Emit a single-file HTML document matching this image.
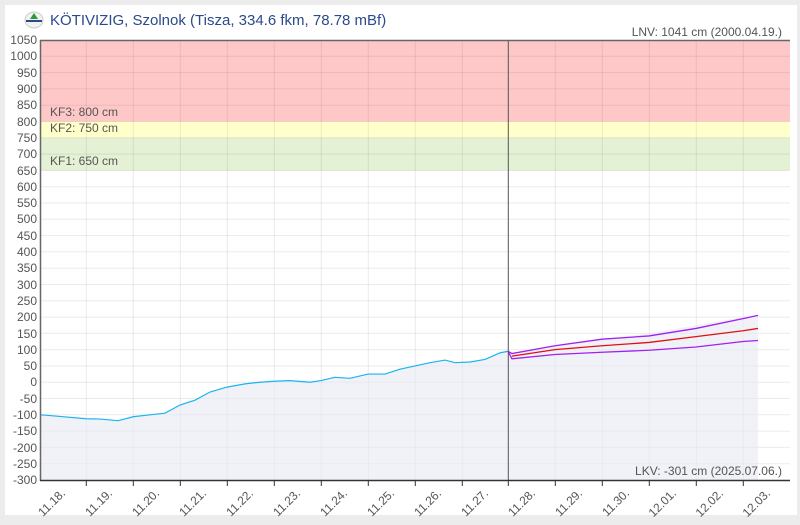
<!DOCTYPE html>
<html><head><meta charset="utf-8"><style>
body{margin:0;background:#ececec;width:800px;height:520px;overflow:hidden;font-family:"Liberation Sans",sans-serif}
</style></head><body>
<svg width="800" height="520" xmlns="http://www.w3.org/2000/svg" font-family="Liberation Sans, sans-serif">
<rect x="5" y="5" width="792" height="510" fill="#fff"/>
<!-- bands -->
<rect x="41" y="40" width="749" height="81.5" fill="#ffc8c8"/>
<rect x="41" y="121.5" width="749" height="16.3" fill="#ffffcc"/>
<rect x="41" y="137.8" width="749" height="32.6" fill="#e4f1d4"/>
<!-- grid -->
<g stroke="#000" stroke-opacity="0.08" stroke-width="1">
<path d="M41 56.3H790M41 72.6H790M41 88.9H790M41 105.2H790M41 121.5H790M41 137.8H790M41 154.1H790M41 170.4H790M41 186.7H790M41 203H790M41 219.3H790M41 235.6H790M41 251.9H790M41 268.2H790M41 284.5H790M41 300.8H790M41 317.1H790M41 333.4H790M41 349.7H790M41 366H790M41 382.2H790M41 398.5H790M41 414.8H790M41 431.1H790M41 447.4H790M41 463.7H790"/>
<path d="M86.3 40V480M133.3 40V480M180.3 40V480M227.3 40V480M274.3 40V480M321.3 40V480M368.3 40V480M415.3 40V480M462.3 40V480M555.3 40V480M602.3 40V480M649.3 40V480M696.3 40V480M743.3 40V480"/>
</g>
<g transform="translate(0,382.22) scale(1,-0.32593)">
<polygon fill="#e8eaf2" fill-opacity="0.6" points="41,-300 41,-100 60,-105 86,-112 100,-113 118,-118 133,-106 150,-100 165,-95 180,-70 195,-55 210,-30 227,-15 245,-5 260,0 274,3 290,5 310,0 321,5 335,15 350,12 368,25 385,25 400,40 415,50 430,60 445,68 455,60 470,62 485,70 500,90 508,95 512,90 555,112 602,132 649,150 696,175 743,200 758,205 758,-300"/>
<polyline fill="none" stroke="#19b4f0" stroke-width="1.2" vector-effect="non-scaling-stroke" points="41,-100 60,-105 86,-112 100,-113 118,-118 133,-106 150,-100 165,-95 180,-70 195,-55 210,-30 227,-15 245,-5 260,0 274,3 290,5 310,0 321,5 335,15 350,12 368,25 385,25 400,40 415,50 430,60 445,68 455,60 470,62 485,70 500,90 508,95"/>
<polyline fill="none" stroke="#a020f0" stroke-width="1.3" vector-effect="non-scaling-stroke" points="508,95 512,88 555,112 602,132 649,142 696,165 743,195 758,205"/>
<polyline fill="none" stroke="#e01010" stroke-width="1.3" vector-effect="non-scaling-stroke" points="512,80 555,100 602,112 649,122 696,140 743,158 758,165"/>
<polyline fill="none" stroke="#a020f0" stroke-width="1.3" vector-effect="non-scaling-stroke" points="508,95 512,72 555,85 602,92 649,98 696,108 743,125 758,128"/>
</g>
<line x1="508.3" y1="40" x2="508.3" y2="480" stroke="#555" stroke-width="1"/>
<line x1="40" y1="40.5" x2="790" y2="40.5" stroke="#666" stroke-width="1.5"/>
<line x1="40.5" y1="40" x2="40.5" y2="481" stroke="#666" stroke-width="1.5"/>
<line x1="40" y1="480.5" x2="790" y2="480.5" stroke="#333" stroke-width="1.5"/>
<g stroke="#333"><path d="M86.3 480V486M133.3 480V486M180.3 480V486M227.3 480V486M274.3 480V486M321.3 480V486M368.3 480V486M415.3 480V486M462.3 480V486M508.3 480V486M555.3 480V486M602.3 480V486M649.3 480V486M696.3 480V486M743.3 480V486"/></g>
<g font-size="12" fill="#555" text-anchor="end">
<text x="37" y="44">1050</text><text x="37" y="60">1000</text><text x="37" y="77">950</text><text x="37" y="93">900</text><text x="37" y="109">850</text><text x="37" y="126">800</text><text x="37" y="142">750</text><text x="37" y="158">700</text><text x="37" y="175">650</text><text x="37" y="191">600</text><text x="37" y="207">550</text><text x="37" y="223">500</text><text x="37" y="240">450</text><text x="37" y="256">400</text><text x="37" y="272">350</text><text x="37" y="289">300</text><text x="37" y="305">250</text><text x="37" y="321">200</text><text x="37" y="338">150</text><text x="37" y="354">100</text><text x="37" y="370">50</text><text x="37" y="386">0</text><text x="37" y="403">-50</text><text x="37" y="419">-100</text><text x="37" y="435">-150</text><text x="37" y="452">-200</text><text x="37" y="468">-250</text><text x="37" y="484">-300</text>
</g>
<g font-size="12" fill="#555" text-anchor="end">
<text transform="translate(66,494) rotate(-45)">11.18.</text>
<text transform="translate(113,494) rotate(-45)">11.19.</text>
<text transform="translate(160,494) rotate(-45)">11.20.</text>
<text transform="translate(207,494) rotate(-45)">11.21.</text>
<text transform="translate(254,494) rotate(-45)">11.22.</text>
<text transform="translate(301,494) rotate(-45)">11.23.</text>
<text transform="translate(348,494) rotate(-45)">11.24.</text>
<text transform="translate(395,494) rotate(-45)">11.25.</text>
<text transform="translate(442,494) rotate(-45)">11.26.</text>
<text transform="translate(489,494) rotate(-45)">11.27.</text>
<text transform="translate(536,494) rotate(-45)">11.28.</text>
<text transform="translate(583,494) rotate(-45)">11.29.</text>
<text transform="translate(630,494) rotate(-45)">11.30.</text>
<text transform="translate(677,494) rotate(-45)">12.01.</text>
<text transform="translate(724,494) rotate(-45)">12.02.</text>
<text transform="translate(771,494) rotate(-45)">12.03.</text>
</g>
<g font-size="12" fill="#555">
<text x="50" y="116">KF3: 800 cm</text>
<text x="50" y="132">KF2: 750 cm</text>
<text x="50" y="165">KF1: 650 cm</text>
<text x="782" y="36" text-anchor="end">LNV: 1041 cm (2000.04.19.)</text>
<text x="782" y="475" text-anchor="end">LKV: -301 cm (2025.07.06.)</text>
</g>
<g>
<ellipse cx="34" cy="20" rx="9" ry="8" fill="#f2f2f2" stroke="#ccc"/>
<polygon points="34,13 30,19 38,19" fill="#2a9a3a"/>
<rect x="26" y="20" width="16" height="2" fill="#2a4a8a"/>
</g>
<text x="50" y="25" font-size="15" fill="#2b4a8c">KÖTIVIZIG, Szolnok (Tisza, 334.6 fkm, 78.78 mBf)</text>
</svg>
</body></html>
